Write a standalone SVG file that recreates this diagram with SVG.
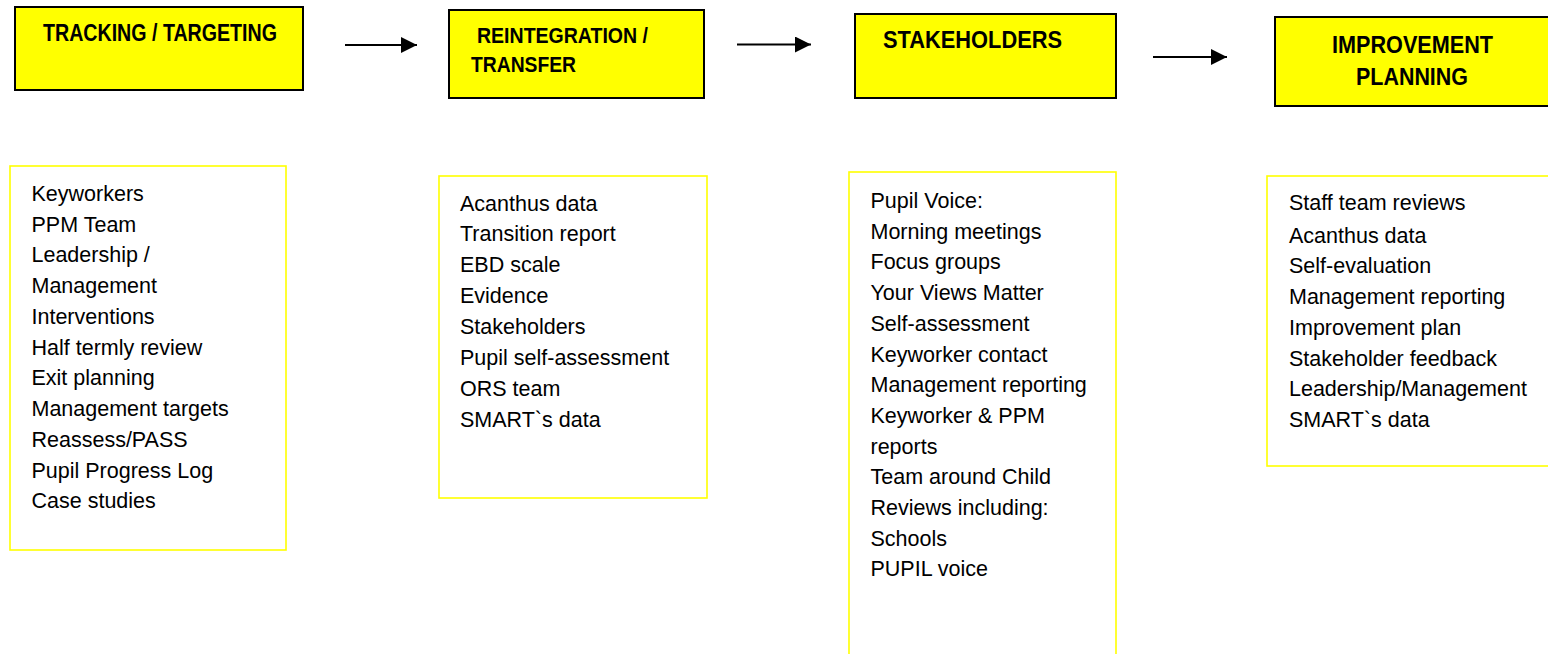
<svg xmlns="http://www.w3.org/2000/svg" width="1548" height="654" viewBox="0 0 1548 654">
  <style>
    .hdr { fill: #FFFF00; stroke: #000000; stroke-width: 2; }
    .lst { fill: #FFFFFF; stroke: #FFFF00; stroke-width: 1.6; }
    .ht { font-family: "Liberation Sans", Arial, sans-serif; font-weight: bold; fill: #000000; }
    .lt { font-family: "Liberation Sans", Arial, sans-serif; font-size: 21.5px; fill: #000000; }
    .conn { stroke: #000000; stroke-width: 2; fill: none; }
  </style>
  <defs>
    <marker id="arrow" viewBox="0 0 16 16" refX="16" refY="8" markerWidth="16" markerHeight="16" markerUnits="userSpaceOnUse" orient="auto">
      <path d="M0,0 L16,8 L0,16 z" fill="#000000"/>
    </marker>
  </defs>
  <rect width="1548" height="654" fill="#FFFFFF"/>

  <g id="tracking-targeting">
    <rect class="hdr" x="15" y="7" width="288" height="83"/>
    <text class="ht" x="43" y="40.5" font-size="23" textLength="234" lengthAdjust="spacingAndGlyphs">TRACKING / TARGETING</text>
  </g>
  <g id="reintegration-transfer">
    <rect class="hdr" x="449" y="10" width="255" height="88"/>
    <text class="ht" x="477" y="42.5" font-size="22" textLength="171" lengthAdjust="spacingAndGlyphs">REINTEGRATION /</text>
    <text class="ht" x="471" y="71.5" font-size="22" textLength="105" lengthAdjust="spacingAndGlyphs">TRANSFER</text>
  </g>
  <g id="stakeholders">
    <rect class="hdr" x="855" y="14" width="261" height="84"/>
    <text class="ht" x="883" y="48" font-size="24" textLength="179" lengthAdjust="spacingAndGlyphs">STAKEHOLDERS</text>
  </g>
  <g id="improvement-planning">
    <rect class="hdr" x="1275" y="17" width="285" height="89"/>
    <text class="ht" x="1332" y="52.5" font-size="24" textLength="161" lengthAdjust="spacingAndGlyphs">IMPROVEMENT</text>
    <text class="ht" x="1356" y="85" font-size="24" textLength="112" lengthAdjust="spacingAndGlyphs">PLANNING</text>
  </g>

  <g id="connectors">
    <line class="conn" x1="345" y1="45" x2="417" y2="45" marker-end="url(#arrow)"/>
    <line class="conn" x1="737" y1="44.5" x2="811" y2="44.5" marker-end="url(#arrow)"/>
    <line class="conn" x1="1153" y1="57" x2="1227" y2="57" marker-end="url(#arrow)"/>
  </g>

  <g id="list-tracking">
    <rect class="lst" x="10" y="166" width="276" height="384"/>
    <text class="lt" x="31.5" y="200.7">Keyworkers</text>
    <text class="lt" x="31.5" y="231.5">PPM Team</text>
    <text class="lt" x="31.5" y="262.2">Leadership /</text>
    <text class="lt" x="31.5" y="293">Management</text>
    <text class="lt" x="31.5" y="323.7">Interventions</text>
    <text class="lt" x="31.5" y="354.5">Half termly review</text>
    <text class="lt" x="31.5" y="385.2">Exit planning</text>
    <text class="lt" x="31.5" y="416">Management targets</text>
    <text class="lt" x="31.5" y="446.8">Reassess/PASS</text>
    <text class="lt" x="31.5" y="477.5">Pupil Progress Log</text>
    <text class="lt" x="31.5" y="508.3">Case studies</text>
  </g>

  <g id="list-reintegration">
    <rect class="lst" x="439" y="176" width="268" height="322"/>
    <text class="lt" x="460" y="210.5">Acanthus data</text>
    <text class="lt" x="460" y="241.4">Transition report</text>
    <text class="lt" x="460" y="272.3">EBD scale</text>
    <text class="lt" x="460" y="303.2">Evidence</text>
    <text class="lt" x="460" y="334.1">Stakeholders</text>
    <text class="lt" x="460" y="365">Pupil self-assessment</text>
    <text class="lt" x="460" y="395.9">ORS team</text>
    <text class="lt" x="460" y="426.8">SMART`s data</text>
  </g>

  <g id="list-stakeholders">
    <rect class="lst" x="849" y="172" width="267" height="500"/>
    <text class="lt" x="870.5" y="208">Pupil Voice:</text>
    <text class="lt" x="870.5" y="238.7">Morning meetings</text>
    <text class="lt" x="870.5" y="269.4">Focus groups</text>
    <text class="lt" x="870.5" y="300.1">Your Views Matter</text>
    <text class="lt" x="870.5" y="330.8">Self-assessment</text>
    <text class="lt" x="870.5" y="361.5">Keyworker contact</text>
    <text class="lt" x="870.5" y="392.2">Management reporting</text>
    <text class="lt" x="870.5" y="422.9">Keyworker &amp; PPM</text>
    <text class="lt" x="870.5" y="453.6">reports</text>
    <text class="lt" x="870.5" y="484.3">Team around Child</text>
    <text class="lt" x="870.5" y="515">Reviews including:</text>
    <text class="lt" x="870.5" y="545.7">Schools</text>
    <text class="lt" x="870.5" y="576.4">PUPIL voice</text>
  </g>

  <g id="list-improvement">
    <rect class="lst" x="1267" y="176" width="295" height="290"/>
    <text class="lt" x="1289" y="210">Staff team reviews</text>
    <text class="lt" x="1289" y="242.7">Acanthus data</text>
    <text class="lt" x="1289" y="273.4">Self-evaluation</text>
    <text class="lt" x="1289" y="304.1">Management reporting</text>
    <text class="lt" x="1289" y="334.8">Improvement plan</text>
    <text class="lt" x="1289" y="365.5">Stakeholder feedback</text>
    <text class="lt" x="1289" y="396.2">Leadership/Management</text>
    <text class="lt" x="1289" y="426.9">SMART`s data</text>
  </g>
</svg>
